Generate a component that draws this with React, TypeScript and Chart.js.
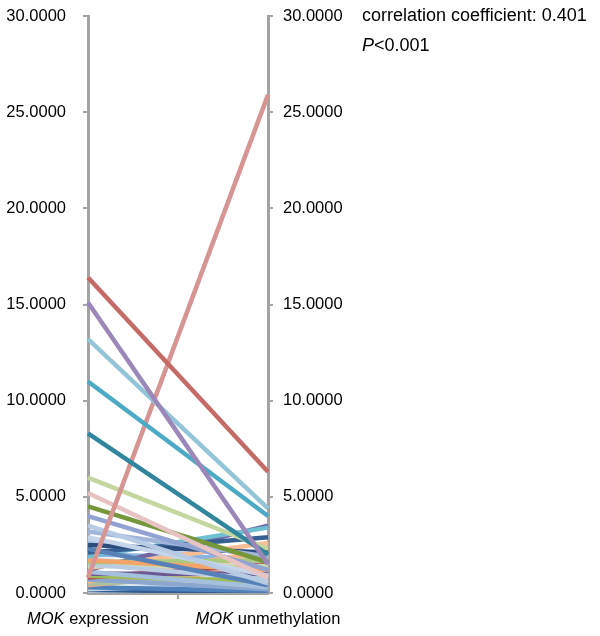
import React, { useEffect, useRef } from "react";
import { Chart, registerables } from "chart.js";

Chart.register(...registerables);

const geneName = "MOK";
const categories = ["expression", "unmethylation"];
const yTicks = [0, 5, 10, 15, 20, 25, 30];
const correlationText = "correlation coefficient: 0.401";
const pSymbol = "P";
const pValueText = "<0.001";

const expressionValues = [
  16.4, 15.1, 13.2, 11.0, 8.3, 0.8, 6.0, 5.2, 4.5, 4.0, 3.5, 3.2, 2.9, 2.5, 2.3,
  2.1, 1.9, 1.7, 1.6, 1.5, 1.4, 1.3, 1.2, 1.1, 1.0, 0.9, 0.8, 0.7, 0.6, 0.5,
  0.4, 0.3, 0.25, 0.2, 0.15, 0.1, 0.05, 0.05, 0.0, 0.1, 2.0, 1.8, 2.7,
];
const unmethylationValues = [
  6.3, 1.5, 4.4, 4.0, 2.0, 25.9, 2.3, 0.8, 1.6, 1.2, 0.5, 1.9, 0.9, 2.1, 0.4,
  2.9, 3.4, 1.2, 1.7, 0.7, 1.4, 2.6, 3.5, 0.3, 1.0, 0.6, 1.5, 0.2, 2.2, 0.8,
  1.3, 0.1, 2.0, 0.5, 0.05, 0.2, 0.1, 0.0, 0.15, 0.3, 1.8, 0.9, 1.4,
];
const lineColors = [
  "#C46A67", "#9C88B8", "#93C4D7", "#4DAAC4", "#31869E", "#D69593", "#C4D79E",
  "#E7C4C3", "#76963C", "#91A3D2", "#B7CBE4", "#A2B6DC", "#C6D6EA", "#2C4D7E",
  "#5881B8", "#376092", "#6FBFD3", "#F3A46B", "#A9C97E", "#BACCE4", "#C8DCB0",
  "#FBBE94", "#7363A3", "#A5C0DC", "#6D5895", "#9BBB59", "#B04A48", "#8CA6D0",
  "#F9B98A", "#A8C2A0", "#E4A98B", "#4F81BD", "#FCCBA6", "#C0D5E8", "#2E5C93",
  "#D9E3F0", "#EC8F3A", "#3D6FA8", "#5B9BD5", "#B3C66C", "#8DB3E2", "#D3DFEE",
  "#B4C7E7",
];

const FONT = "'Liberation Sans', Arial, sans-serif";
const AXIS_COLOR = "#A3A3A3";

export default function App() {
  const canvasRef = useRef<HTMLCanvasElement>(null);

  useEffect(() => {
    document.body.style.margin = "0";
    const canvas = canvasRef.current;
    if (!canvas) return;

    const datasets = expressionValues.map((v, i) => ({
      label: `case ${i + 1}`,
      data: [v, unmethylationValues[i]],
      borderColor: lineColors[i],
      backgroundColor: lineColors[i],
      borderWidth: 4.5,
      pointRadius: 0,
      tension: 0,
      yAxisID: "y",
    }));

    const textPlugin = {
      id: "textPlugin",
      afterDraw(chart: any) {
        const ctx = chart.ctx as CanvasRenderingContext2D;
        const xs = chart.scales.x;
        ctx.save();
        ctx.fillStyle = "#000";
        ctx.textBaseline = "middle";
        ctx.textAlign = "left";
        const labelY = chart.chartArea.bottom + 26;
        categories.forEach((c, i) => {
          const px = xs.getPixelForValue(i);
          ctx.font = `italic 16.5px ${FONT}`;
          const w1 = ctx.measureText(geneName).width;
          ctx.font = `16.5px ${FONT}`;
          const w2 = ctx.measureText(" " + c).width;
          const start = px - (w1 + w2) / 2;
          ctx.font = `italic 16.5px ${FONT}`;
          ctx.fillText(geneName, start, labelY);
          ctx.font = `16.5px ${FONT}`;
          ctx.fillText(" " + c, start + w1, labelY);
        });
        const ax = chart.chartArea.right + 94;
        ctx.font = `18px ${FONT}`;
        ctx.fillText(correlationText, ax, chart.chartArea.top);
        ctx.font = `italic 18px ${FONT}`;
        const pw = ctx.measureText(pSymbol).width;
        ctx.fillText(pSymbol, ax, chart.chartArea.top + 30);
        ctx.font = `18px ${FONT}`;
        ctx.fillText(pValueText, ax + pw, chart.chartArea.top + 30);
        ctx.restore();
      },
    };

    const yCommon = (position: "left" | "right", padding: number, width: number) => ({
      type: "linear" as const,
      position,
      min: 0,
      max: 30,
      afterBuildTicks: (s: any) => {
        s.ticks = yTicks.map((v) => ({ value: v }));
      },
      afterFit: (s: any) => {
        s.width = width;
        s.paddingTop = 10;
        s.paddingBottom = 10;
      },
      ticks: {
        color: "#000",
        font: { family: FONT, size: 16.5 },
        padding,
        callback: (v: any) => Number(v).toFixed(4),
      },
      grid: {
        drawOnChartArea: false,
        drawTicks: true,
        tickLength: 5,
        color: AXIS_COLOR,
        lineWidth: 2,
      },
      border: { color: AXIS_COLOR, width: 3 },
    });

    const chart = new Chart(canvas, {
      type: "line",
      data: {
        labels: categories,
        datasets,
      },
      options: {
        animation: false,
        responsive: true,
        maintainAspectRatio: false,
        layout: { padding: { top: 16, left: 0, right: 0, bottom: 0 } },
        plugins: {
          legend: { display: false },
          tooltip: { enabled: false },
        },
        scales: {
          x: {
            type: "category",
            offset: false,
            ticks: { display: false },
            afterFit: (s: any) => {
              s.height = 43;
            },
            grid: {
              offset: true,
              drawOnChartArea: false,
              drawTicks: true,
              tickLength: 6,
              color: AXIS_COLOR,
              lineWidth: 2,
            },
            border: { color: AXIS_COLOR, width: 3 },
          },
          y: yCommon("left", 17, 88),
          y2: yCommon("right", 10, 332),
        },
      },
      plugins: [textPlugin],
    });

    return () => chart.destroy();
  }, []);

  return (
    <div style={{ position: "relative", width: 600, height: 636 }}>
      <canvas ref={canvasRef} />
    </div>
  );
}
